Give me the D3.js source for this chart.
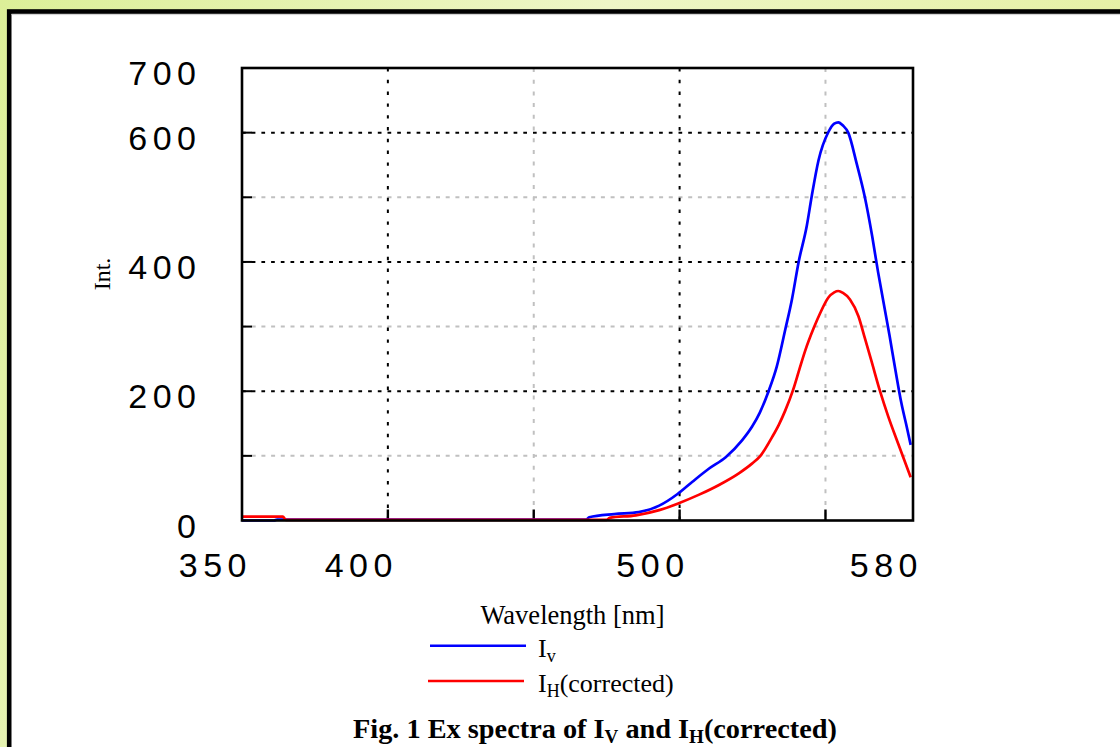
<!DOCTYPE html>
<html><head><meta charset="utf-8">
<script src="https://cdn.jsdelivr.net/npm/d3@7"></script>
<style>body{margin:0;overflow:hidden;background:#fff} svg{display:block}</style>
</head><body>
<svg id="c" width="1120" height="747"></svg>
<script>
// ---- data ----
const ivWavelength = [350, 361, 362, 468, 469, 477.6, 486, 493, 499.3, 504.4, 510, 515.8, 521.4, 524.8, 527.5, 530.5, 533.3, 536.2, 538.5, 540.8, 543.6, 545.3, 547.6, 551, 553, 554.4, 556, 557.8, 560.7, 563.5, 566, 568, 570, 572, 574, 576, 578, 579.2];
const ivValues     = [0, 0, 1.5, 1.5, 5, 10, 13, 23, 41, 60, 80, 98, 124, 145, 167, 200, 238, 295, 342, 400, 456, 502, 557, 601, 614, 616, 611, 600, 552, 500, 440, 385, 335, 285, 232, 182, 142, 117];
const ihWavelength = [350, 364, 365, 475, 476, 485, 493, 499.3, 506.7, 513.5, 520.3, 524.8, 527.7, 531.7, 534, 536.2, 538.9, 541, 543, 546, 548.2, 551, 553, 554.4, 556, 558.4, 561.3, 563.5, 565.8, 568.7, 571.5, 574.9, 579.2];
const ihValues     = [6, 6, 1, 1, 4, 8, 16, 26, 40, 55, 73, 88, 100, 129, 148, 170, 202, 233, 262, 298, 321, 345, 353, 355, 352, 342, 316, 282, 246, 200, 161, 119, 67];
const xDomain = [350, 580];
const yDomain = [0, 700];
const xMajorGrid = [400, 500];
const xMinorGrid = [450, 550];
const xTickLabels = [350, 400, 500, 580];
const yMajorGrid = [200, 400, 600];
const yMinorGrid = [100, 300, 500];
const yTicks = [100, 200, 300, 400, 500, 600];
const yTickLabels = [0, 200, 400, 600, 700];
const seriesColors = ["#0000ff", "#ff0000"];

// ---- drawing ----
const svg = d3.select("#c");
const defs = svg.append("defs");
const grad = defs.append("linearGradient").attr("id", "bg").attr("x1", "0").attr("y1", "0").attr("x2", "1").attr("y2", "0.3");
grad.append("stop").attr("offset", "0").attr("stop-color", "#dcef98");
grad.append("stop").attr("offset", "0.5").attr("stop-color", "#eef6c6");
grad.append("stop").attr("offset", "1").attr("stop-color", "#e4f0a0");
svg.append("rect").attr("width", 1120).attr("height", 747).attr("fill", "url(#bg)");
// white panel with thick black border
svg.append("rect").attr("x", 9.2).attr("y", 11.5).attr("width", 1200).attr("height", 800)
  .attr("fill", "#fff").attr("stroke", "#000").attr("stroke-width", 4.6);
svg.append("line").attr("x1", 11.5).attr("x2", 1120).attr("y1", 14.6).attr("y2", 14.6)
  .attr("stroke", "#d0d0d0").attr("stroke-width", 1);

const x = d3.scaleLinear().domain(xDomain).range([242, 913]);
const y = d3.scaleLinear().domain(yDomain).range([520.5, 68]);

const g = svg.append("g");
// minor grid (gray)
g.selectAll(".hminor").data(yMinorGrid).join("line")
  .attr("x1", x(xDomain[0])).attr("x2", x(xDomain[1])).attr("y1", d => y(d)).attr("y2", d => y(d))
  .attr("stroke", "#c0c0c0").attr("stroke-width", 2).attr("stroke-dasharray", "4 5.7");
g.selectAll(".vminor").data(xMinorGrid).join("line")
  .attr("x1", d => x(d)).attr("x2", d => x(d)).attr("y1", y(yDomain[1])).attr("y2", y(0))
  .attr("stroke", "#c0c0c0").attr("stroke-width", 2).attr("stroke-dasharray", "4 7.7");
// major grid (black dotted)
g.selectAll(".hmajor").data(yMajorGrid).join("line")
  .attr("x1", x(xDomain[0])).attr("x2", x(xDomain[1])).attr("y1", d => y(d)).attr("y2", d => y(d))
  .attr("stroke", "#000").attr("stroke-width", 2).attr("stroke-dasharray", "3.7 6");
g.selectAll(".vmajor").data(xMajorGrid).join("line")
  .attr("x1", d => x(d)).attr("x2", d => x(d)).attr("y1", y(yDomain[1])).attr("y2", y(0))
  .attr("stroke", "#000").attr("stroke-width", 2).attr("stroke-dasharray", "3.4 8.4");

// inward ticks
g.selectAll(".yt").data(yTicks).join("line")
  .attr("x1", x(xDomain[0])).attr("x2", x(xDomain[0]) + 10).attr("y1", d => y(d)).attr("y2", d => y(d))
  .attr("stroke", "#000").attr("stroke-width", 2);
g.selectAll(".xt").data(xMajorGrid.concat(xMinorGrid)).join("line")
  .attr("x1", d => x(d)).attr("x2", d => x(d)).attr("y1", y(0)).attr("y2", y(0) - 11)
  .attr("stroke", "#000").attr("stroke-width", 2.4);

// series
const line = d3.line().x(d => x(d[0])).y(d => y(d[1])).curve(d3.curveMonotoneX);
const ivData = d3.zip(ivWavelength, ivValues);
const ihData = d3.zip(ihWavelength, ihValues);
g.append("path").datum(ivData).attr("d", line).attr("fill", "none")
  .attr("stroke", seriesColors[0]).attr("stroke-width", 2.7).attr("stroke-linejoin", "round");
g.append("path").datum(ihData).attr("d", line).attr("fill", "none")
  .attr("stroke", seriesColors[1]).attr("stroke-width", 2.7).attr("stroke-linejoin", "round");

// frame
g.append("rect").attr("x", x(xDomain[0])).attr("y", y(yDomain[1]))
  .attr("width", x(xDomain[1]) - x(xDomain[0])).attr("height", y(0) - y(yDomain[1]))
  .attr("fill", "none").attr("stroke", "#000").attr("stroke-width", 2.6);

// tick labels (spaced digits)
const numFont = "'Liberation Sans', Arial, sans-serif";
svg.selectAll(".ylab").data(yTickLabels).join("text")
  .attr("x", 201.5).attr("y", d => y(d) + 17)
  .attr("text-anchor", "end").attr("font-family", numFont).attr("font-size", 34)
  .attr("letter-spacing", 5.5).attr("fill", "#000").text(d => d);
svg.selectAll(".xlab").data(xTickLabels).join("text")
  .attr("x", d => x(d) + 10).attr("y", 577)
  .attr("text-anchor", "end").attr("font-family", numFont).attr("font-size", 34)
  .attr("letter-spacing", 5.5).attr("fill", "#000").text(d => d);

const serif = "'Liberation Serif', 'Times New Roman', serif";
// axis titles
svg.append("text").attr("transform", "translate(110,274) rotate(-90)")
  .attr("text-anchor", "middle").attr("font-family", serif).attr("font-size", 24).text("Int.");
svg.append("text").attr("x", 572.5).attr("y", 624).attr("text-anchor", "middle")
  .attr("font-family", serif).attr("font-size", 26.5).text("Wavelength [nm]");

// legend
const legendItems = [
  {main: "I", sub: "v", rest: "", color: seriesColors[0], ly: 645.7, ty: 656.5, x1: 430, x2: 526},
  {main: "I", sub: "H", rest: "(corrected)", color: seriesColors[1], ly: 681, ty: 691.7, x1: 428, x2: 524}
];
legendItems.forEach(it => {
  svg.append("line").attr("x1", it.x1).attr("x2", it.x2).attr("y1", it.ly).attr("y2", it.ly)
    .attr("stroke", it.color).attr("stroke-width", 2.4);
  const t = svg.append("text").attr("x", 538).attr("y", it.ty).attr("font-family", serif).attr("font-size", 26);
  t.append("tspan").text(it.main);
  t.append("tspan").attr("font-size", 18).attr("dy", 5.5).text(it.sub);
  if (it.rest) t.append("tspan").attr("dy", -5.5).text(it.rest);
});

// caption
const cap = svg.append("text").attr("x", 595).attr("y", 738).attr("text-anchor", "middle")
  .attr("font-family", serif).attr("font-size", 28.3).attr("font-weight", "bold");
cap.append("tspan").text("Fig. 1 Ex spectra of I");
cap.append("tspan").attr("font-size", 19).attr("dy", 5).text("V");
cap.append("tspan").attr("dy", -5).text(" and I");
cap.append("tspan").attr("font-size", 19).attr("dy", 5).text("H");
cap.append("tspan").attr("dy", -5).text("(corrected)");
</script>
</body></html>
